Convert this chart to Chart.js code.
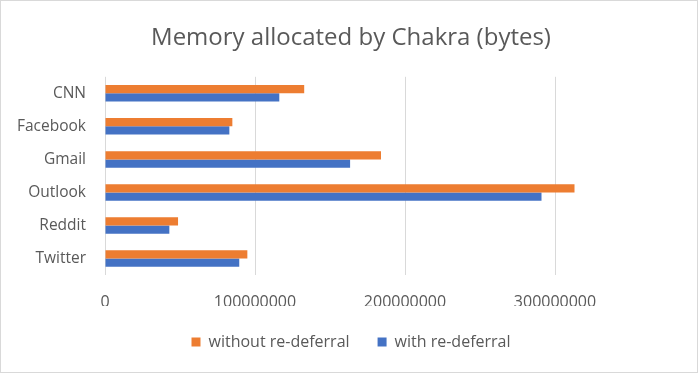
<!DOCTYPE html>
<html lang="en">
  <head>
    <meta charset="UTF-8" />
    <title>Memory allocated by Chakra</title>
    <script src="https://cdn.jsdelivr.net/npm/chart.js"></script>
    <style>
      html, body { margin: 0; padding: 0; background: #ffffff; }
      #wrap { width: 698px; height: 373px; position: relative; }
    </style>
  </head>
  <body>
    <div id="wrap"><canvas id="memChart"></canvas></div>
    <script>
      // data
      const sites = ["CNN", "Facebook", "Gmail", "Outlook", "Reddit", "Twitter"];
      const withoutReDeferral = [132800000, 84900000, 184000000, 313000000, 48700000, 94900000];
      const withReDeferral = [116200000, 82900000, 163400000, 291000000, 42900000, 89500000];
      const xTicks = [0, 100000000, 200000000, 300000000];

      const textColor = "#595959";
      const fontFamily = "'Segoe UI', 'Open Sans', sans-serif";

      // white background + thin grey frame
      const framePlugin = {
        id: "frame",
        beforeDraw(chart) {
          const c = chart.ctx;
          c.save();
          c.fillStyle = "#ffffff";
          c.fillRect(0, 0, chart.width, chart.height);
          c.strokeStyle = "#d9d9d9";
          c.lineWidth = 1;
          c.strokeRect(0.5, 0.5, chart.width - 1, chart.height - 1);
          c.restore();
        },
      };

      new Chart(document.getElementById("memChart"), {
        type: "bar",
        data: {
          labels: sites,
          datasets: [
            {
              label: "without re-deferral",
              data: withoutReDeferral,
              backgroundColor: "#ED7D31",
              categoryPercentage: 0.5,
              barPercentage: 1.0,
            },
            {
              label: "with re-deferral",
              data: withReDeferral,
              backgroundColor: "#4472C4",
              categoryPercentage: 0.5,
              barPercentage: 1.0,
            },
          ],
        },
        options: {
          indexAxis: "y",
          responsive: true,
          maintainAspectRatio: false,
          animation: false,
          layout: { padding: { left: 12, right: 8, top: 0, bottom: 13 } },
          scales: {
            x: {
              min: 0,
              max: 390000000,
              afterBuildTicks(scale) {
                scale.ticks = xTicks.map((v) => ({ value: v }));
              },
              afterFit(scale) {
                scale.height = 31;
              },
              grid: { color: "#d9d9d9", lineWidth: 1, drawTicks: false },
              border: { display: false },
              ticks: {
                autoSkip: false,
                maxRotation: 0,
                padding: 18,
                color: textColor,
                font: { family: fontFamily, size: 16 },
                callback: (v) => String(v),
              },
            },
            y: {
              afterFit(scale) {
                scale.width = 93;
              },
              grid: { display: false },
              border: { display: false },
              ticks: {
                padding: 11,
                color: textColor,
                font: { family: fontFamily, size: 15.5 },
              },
            },
          },
          plugins: {
            title: {
              display: true,
              text: "Memory allocated by Chakra (bytes)",
              color: textColor,
              font: { family: fontFamily, size: 24, weight: "normal", lineHeight: 1.2 },
              padding: { top: 24, bottom: 24 },
            },
            legend: {
              position: "bottom",
              labels: {
                boxWidth: 9,
                boxHeight: 9,
                padding: 28,
                color: textColor,
                font: { family: fontFamily, size: 16 },
              },
            },
            tooltip: { enabled: false },
          },
        },
        plugins: [framePlugin],
      });
    </script>
  </body>
</html>
